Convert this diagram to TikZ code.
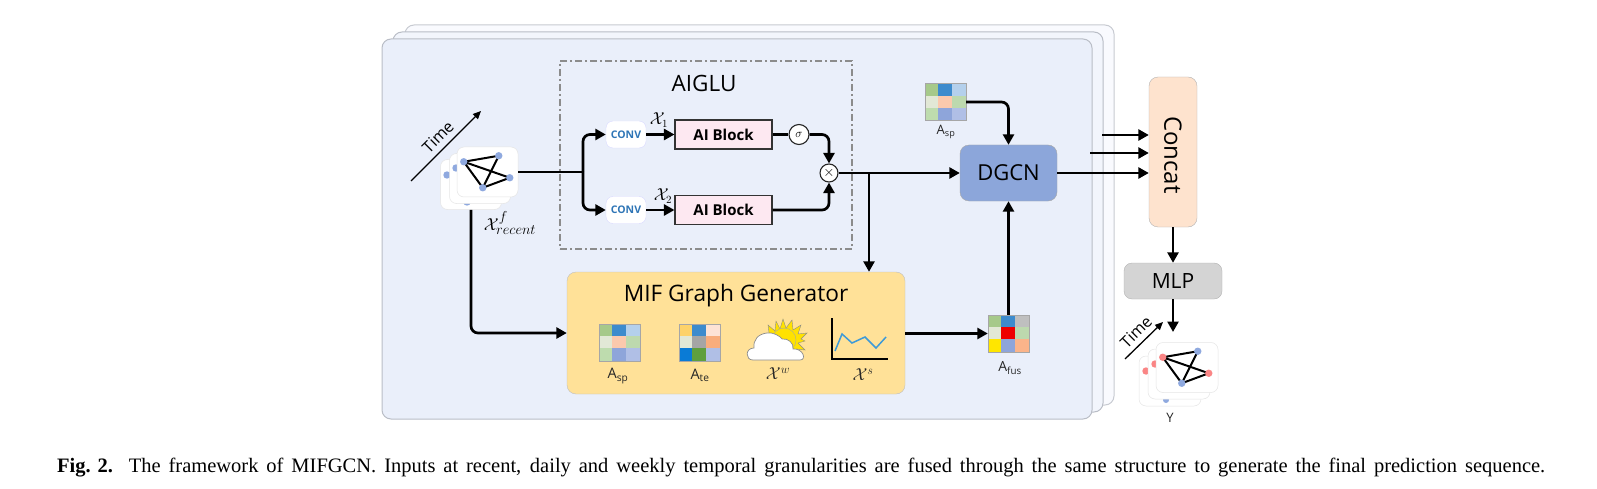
\documentclass[tikz,border=0pt]{standalone}
\usepackage{fontspec}
\setmainfont{Open Sans}
\newfontfamily\capfont{Liberation Serif}
\usetikzlibrary{arrows.meta,calc}
\definecolor{panA}{HTML}{EAEFFA}
\definecolor{panB}{HTML}{F2F5FC}
\definecolor{panC}{HTML}{F9FAFE}
\definecolor{panE}{HTML}{B9BDC6}
\definecolor{mifc}{HTML}{FFE198}
\definecolor{dgcnc}{HTML}{8CA6DA}
\definecolor{concatc}{HTML}{FEE3CE}
\definecolor{mlpc}{HTML}{D4D4D4}
\definecolor{blockc}{HTML}{FDE8F1}
\definecolor{convt}{HTML}{2E75B6}
\definecolor{nodeb}{HTML}{8FA9DF}
\definecolor{noder}{HTML}{FA8585}
\definecolor{sunc}{HTML}{FFE200}
\definecolor{chartc}{HTML}{3D9AD8}
\newcommand{\fsz}[1]{\fontsize{#1}{#1}\selectfont}
\newcommand{\gridcells}[2]{% centre, nine colours
  \foreach \cc [count=\ii from 0] in {#2}{
    \pgfmathtruncatemacro{\rr}{int(\ii/3)}
    \pgfmathtruncatemacro{\qq}{\ii-3*\rr}
    \definecolor{cellc}{HTML}{\cc}
    \fill[fill=cellc] ($(#1.north west)+(13.67*\qq,12.33*\rr)$) rectangle ++(13.67,12.33);
  }
  \draw[gray!70,line width=.5pt] (#1.north west) rectangle (#1.south east);
}
\newcommand{\graphcard}[3]{% front card, colours for the four nodes
  \coordinate (#1a) at ($(#1.north west)+(7,15)$);
  \coordinate (#1b) at ($(#1.north west)+(42,9)$);
  \coordinate (#1c) at ($(#1.north west)+(53,31)$);
  \coordinate (#1d) at ($(#1.north west)+(26,41)$);
  \draw[graphedge] (#1a)--(#1b) (#1a)--(#1c) (#1a)--(#1d) (#1b)--(#1d) (#1d)--(#1c);
  \fill[#2] (#1a) circle (3.7);
  \fill[#3] (#1b) circle (3.7);
  \fill[#2] (#1c) circle (3.7);
  \fill[#3] (#1d) circle (3.7);
}
\tikzset{
  x=1pt,y=-1pt,
  panel/.style={rounded corners=9pt,line width=1pt,inner sep=0pt},
  conn/.style={line width=2.7pt,rounded corners=7pt,-{Triangle[length=10.5pt,width=11pt]},black},
  plainconn/.style={line width=2.7pt,rounded corners=7pt,black},
  timearrow/.style={line width=1.3pt,-{Triangle[length=8pt,width=7pt]},black},
  timelabel/.style={rotate=45,inner sep=0pt},
  card/.style={draw=gray!20,fill=white,rounded corners=7pt,inner sep=0pt,minimum width=61pt,minimum height=50pt,line width=.5pt},
  graphedge/.style={line width=2pt,black},
  matbox/.style={minimum width=41pt,minimum height=37pt,inner sep=0pt},
  convbox/.style={draw=blue!15,fill=white,rounded corners=7pt,minimum width=40pt,minimum height=27pt,inner sep=0pt,text=convt,font=\fsz{10.5}\bfseries},
  aiblock/.style={draw=black!80,fill=blockc,line width=1.1pt,minimum width=97pt,minimum height=29pt,inner sep=0pt,font=\fsz{15}\bfseries},
  opnode/.style={circle,draw=black!85,fill=white,line width=1.1pt,inner sep=0pt,minimum size=#1},
  smalllab/.style={inner sep=0pt,text=black!85},
}
\begin{document}
\begin{tikzpicture}
\useasboundingbox (0,0) rectangle (1597,489);
% stacked panels
\draw[panel,fill=panC,draw=panE!80] (405,25) rectangle (1114,405);
\draw[panel,fill=panB,draw=panE] (393,32) rectangle (1103,412);
\draw[panel,fill=panA,draw=panE] (382,39) rectangle (1092,419);
% AIGLU
\node[draw=black!45,line width=1.1pt,dash pattern=on 7pt off 3pt on 2pt off 3pt,minimum width=292pt,minimum height=188pt,inner sep=0pt] (aiglu) at (706,155) {};
\node[inner sep=0pt,font=\fsz{22.5}] (aiglut) at (704,83) {AIGLU};
\node[convbox] (conva) at (626,134.5) {CONV};
\node[convbox] (convb) at (626,210) {CONV};
\node[aiblock] (blocka) at (723.5,134.5) {AI Block};
\node[aiblock] (blockb) at (723.5,210) {AI Block};
\node[opnode=20pt,font=\fsz{12}] (sigma) at (799,134.5) {$\sigma$};
\node[opnode=18pt,font=\fsz{15}] (times) at (829,173) {$\times$};
\node[inner sep=0pt,font=\fsz{16}] (xa) at (659,120) {$\mathcal{X}_1$};
\node[inner sep=0pt,font=\fsz{16}] (xb) at (663,196) {$\mathcal{X}_2$};
% input stack
\draw[timearrow] (411,181) coordinate (timeas) -- (481,111) coordinate (timeae);
\node[timelabel,font=\fsz{16}] (timea) at (438,137) {Time};
\node[card] (carda) at (471,184.5) {};
\fill[nodeb] (447,175) circle (3.7) (467,202) circle (3.7);
\node[card] (cardb) at (480,178.5) {};
\fill[nodeb] (456,168) circle (3.7);
\node[card] (cardc) at (487.5,172) {};
\graphcard{cardc}{nodeb}{nodeb}
\node[inner sep=0pt,font=\fsz{19}] (xrec) at (510,223) {$\mathcal{X}^{f}_{recent}$};
% MIF
\node[draw=black!25,fill=mifc,rounded corners=9pt,minimum width=338pt,minimum height=122pt,inner sep=0pt] (mif) at (736,333) {};
\node[inner sep=0pt,font=\fsz{22.7}] (mift) at (736,296) {MIF Graph Generator};
\node[matbox] (aspa) at (619.5,342.5) {};
\gridcells{aspa}{A6C98A,3D8BCD,B4D0EC,E2E8D6,FBC9AD,BDD9AE,BEDCAE,8EA5DA,B0BFE6}
\node[matbox] (ate) at (699.5,342.5) {};
\gridcells{ate}{FDD26A,3D8BCD,FDE3D6,E2E8D6,A5A5A5,F8AD7C,0A7BD6,5F9F3E,B0BFE6}
\node[smalllab,font=\fsz{14.5}] (asplab) at (618,376) {A\textsubscript{sp}};
\node[smalllab,font=\fsz{14.5}] (atelab) at (700,375) {A\textsubscript{te}};
% sun and cloud
\fill[sunc,draw=black!45,line width=.4pt] (783,319) -- (786,328) -- (792,320) -- (793,330) -- (801,325) -- (798,334) -- (807,333) -- (801,339) -- (805,341) -- (798,343) -- (805,350) -- (796,349) -- (797,358) -- (770,340) -- (768,325) -- (775,331) -- (776,321) -- (780,329) -- cycle;
\fill[sunc,draw=black!35,line width=.4pt] (784,340) circle (12);
\draw[fill=white,draw=black!45,line width=.7pt] (753,360) .. controls (745,360) and (745,348) .. (754,348) .. controls (753,340) and (758,334) .. (767,333) .. controls (773,332) and (780,336) .. (782,339) .. controls (788,338) and (794,343) .. (793,349) .. controls (803,348) and (807,360) .. (800,360) -- cycle;
\node[smalllab,font=\fsz{18}] (xw) at (778,374) {$\mathcal{X}^{w}$};
% chart
\draw[black,line width=1.9pt] (832,318) coordinate (chy) -- (832,359) coordinate (cho) -- (888,359) coordinate (chx);
\draw[color=chartc,line width=1.5pt] (835,351) -- (842,334) -- (852,343) -- (865,337) -- (876,348) -- (886,337);
\node[smalllab,font=\fsz{18}] (xs) at (863,375) {$\mathcal{X}^{s}$};
% fusion matrix
\node[matbox] (afus) at (1008.5,333.5) {};
\gridcells{afus}{A6C98A,3D8BCD,BFBFBF,E2E8D6,EE0000,BDD9AE,FFE600,8EA5DA,FBB48A}
\node[smalllab,font=\fsz{14}] (afuslab) at (1010,368) {A\textsubscript{fus}};
% DGCN
\node[draw=black!35,fill=dgcnc,rounded corners=9pt,minimum width=97pt,minimum height=56pt,inner sep=0pt,font=\fsz{22}] (dgcn) at (1008.5,173) {DGCN};
\node[matbox] (aspb) at (945.5,102) {};
\gridcells{aspb}{A6C98A,3D8BCD,B4D0EC,E2E8D6,FBC9AD,BDD9AE,BEDCAE,8EA5DA,B0BFE6}
\node[smalllab,font=\fsz{13}] (aspblab) at (946,132) {A\textsubscript{sp}};
% Concat, MLP
\node[draw=black!30,fill=concatc,rounded corners=9pt,minimum width=48pt,minimum height=150pt,inner sep=0pt] (concat) at (1173,152) {};
\node[rotate=-90,inner sep=0pt,font=\fsz{24}] (concatt) at (1173,155) {Concat};
\node[draw=black!30,fill=mlpc,rounded corners=8pt,minimum width=98pt,minimum height=36pt,inner sep=0pt,font=\fsz{21}] (mlp) at (1173,281) {MLP};
% output stack
\draw[timearrow] (1125,359) coordinate (timebs) -- (1163,322) coordinate (timebe);
\node[timelabel,font=\fsz{16}] (timeb) at (1136,332) {Time};
\node[card,minimum width=62pt] (cardd) at (1170,381) {};
\fill[noder] (1146,371) circle (3.7);
\fill[nodeb] (1166,400) circle (3);
\node[card,minimum width=62pt] (carde) at (1179,374) {};
\fill[noder] (1155,364) circle (3.7);
\node[card,minimum width=62pt] (cardf) at (1187,367.5) {};
\graphcard{cardf}{noder}{nodeb}
\node[smalllab,font=\fsz{13}] (ylab) at (1170,418) {Y};
\coordinate (outtop) at (1173,332);
% connectors
\coordinate (branch) at (583,172);
\draw[plainconn] (cardc.east) -- (branch);
\draw[conn] (branch) |- (conva.west);
\draw[conn] (branch) |- (convb.west);
\draw[conn,rounded corners=0pt] (conva.east) -- (blocka.west);
\draw[conn,rounded corners=0pt] (convb.east) -- (blockb.west);
\draw[plainconn] (blocka.east) -- (sigma.west);
\draw[conn] (sigma.east) -| (times.north);
\draw[conn] (blockb.east) -| (times.south);
\draw[conn] (times.east) -- (dgcn.west);
\coordinate (junc) at (869,173);
\draw[conn] (junc) -- (junc |- mif.north);
\draw[conn] (carda.south) |- (mif.west);
\draw[conn] (mif.east |- afus.west) -- (afus.west);
\draw[conn] (afus.north) -- (dgcn.south);
\draw[conn] (aspb.east) -| (dgcn.north);
\draw[conn] (dgcn.east) -- (dgcn.east -| concat.west);
\coordinate (fromb) at (1090,153);
\coordinate (fromc) at (1102,135);
\draw[conn] (fromb) -- (fromb -| concat.west);
\draw[conn] (fromc) -- (fromc -| concat.west);
\draw[conn] (concat.south) -- (mlp.north);
\draw[conn] (mlp.south) -- (outtop);
% caption
\node[anchor=west,inner sep=0pt,font=\capfont\fsz{20.5}] (caption) at (57,468) {\makebox[1488pt][s]{\mbox{\textbf{Fig. 2.}}\ \ The framework of MIFGCN. Inputs at recent, daily and weekly temporal granularities are fused through the same structure to generate the final prediction sequence.}};
\end{tikzpicture}
\end{document}
